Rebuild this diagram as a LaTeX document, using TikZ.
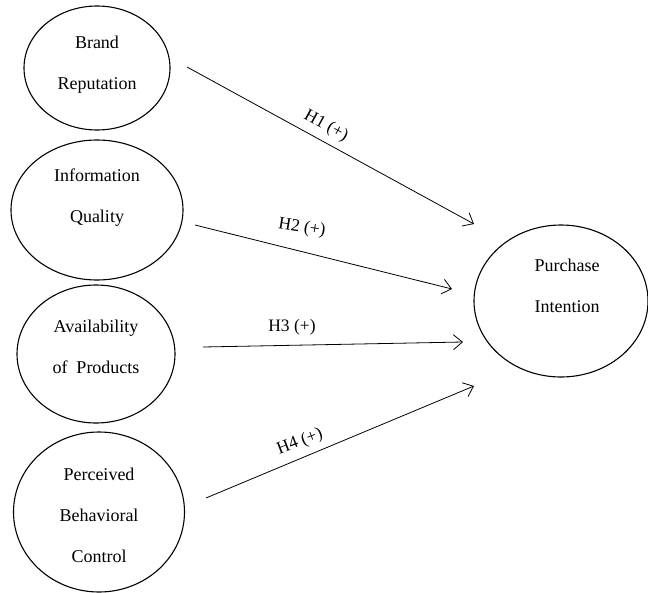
\documentclass[tikz,border=0pt]{standalone}
\usepackage{fontspec}
\setmainfont{Liberation Serif}
\usetikzlibrary{shapes.geometric,arrows.meta}
\tikzset{
  construct/.style={draw, ellipse, line width=1.1pt, inner sep=0pt},
  txt/.style={align=center, font=\fontsize{18}{41}\selectfont, inner sep=0pt},
  hyp/.style={font=\fontsize{17.5}{20}\selectfont, inner sep=0pt},
  path/.style={line width=0.8pt, -{Straight Barb[length=9pt,width=15pt,line width=0.8pt]}}
}
\begin{document}
\begin{tikzpicture}[x=1pt,y=-1pt]
\useasboundingbox (0,0) rectangle (648,592);
% ellipses
\node[construct, minimum width=146pt, minimum height=124pt] (br) at (97,68) {};
\node[construct, minimum width=172pt, minimum height=140pt] (iq) at (97,210) {};
\node[construct, minimum width=158pt, minimum height=138pt] (ap) at (96,354) {};
\node[construct, minimum width=171pt, minimum height=160pt] (pbc) at (99,512) {};
\node[construct, minimum width=174pt, minimum height=152pt] (pi) at (561,301) {};
% texts
\node[txt] (brt) at (97,65) {Brand\\Reputation};
\node[txt] (iqt) at (97,198) {Information\\Quality};
\node[txt] (apt) at (96,347) {Availability\\of\ \ Products};
\node[txt] (pbct) at (99,515) {Perceived\\Behavioral\\Control};
\node[txt] (pit) at (567,286) {Purchase\\Intention};
% connector end points
\coordinate (s1) at (187,67);  \coordinate (e1) at (474,224);
\coordinate (s2) at (195,225); \coordinate (e2) at (452,289);
\coordinate (s3) at (203,347); \coordinate (e3) at (463,342);
\coordinate (s4) at (206,498); \coordinate (e4) at (474,386);
\draw[path] (s1) -- (e1);
\draw[path] (s2) -- (e2);
\draw[path] (s3) -- (e3);
\draw[path] (s4) -- (e4);
% labels
\node[hyp, rotate=-28.7] (h1) at (326,126) {H1 (+)};
\node[hyp, rotate=-9] (h2) at (302,228) {H2 (+)};
\node[hyp] (h3) at (292,327) {H3 (+)};
\node[hyp, rotate=21] (h4) at (300,442) {H4 (+)};
\end{tikzpicture}
\end{document}
